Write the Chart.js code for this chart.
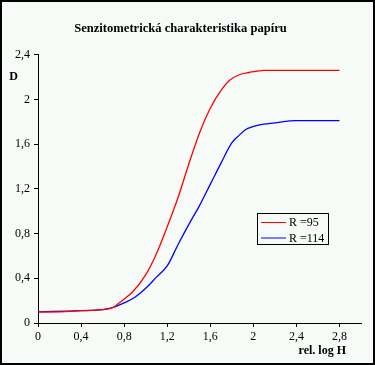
<!DOCTYPE html>
<html>
<head>
<meta charset="utf-8">
<script src="https://cdn.jsdelivr.net/npm/chart.js@4/dist/chart.umd.min.js"></script>
<style>
  html, body { margin: 0; padding: 0; background: #ffffff; }
  #wrap { width: 375px; height: 365px; }
</style>
</head>
<body>
<div id="wrap"><canvas id="myChart" width="375" height="365"></canvas></div>
<script>
// hodnoty
var logH95 = [0, 0.2, 0.4, 0.6, 0.7, 0.78, 0.88, 1.0, 1.1, 1.2, 1.3, 1.4, 1.5, 1.6, 1.7, 1.78, 1.87, 1.96, 2.1, 2.4, 2.8];
var d95 = [0.10, 0.10, 0.11, 0.12, 0.14, 0.20, 0.28, 0.43, 0.62, 0.86, 1.12, 1.42, 1.70, 1.92, 2.08, 2.17, 2.22, 2.24, 2.26, 2.26, 2.26];
var logH114 = [0, 0.4, 0.6, 0.7, 0.8, 0.9, 1.0, 1.1, 1.2, 1.3, 1.4, 1.5, 1.6, 1.7, 1.8, 1.87, 1.93, 2.05, 2.2, 2.4, 2.8];
var d114 = [0.10, 0.11, 0.12, 0.14, 0.18, 0.23, 0.31, 0.41, 0.51, 0.70, 0.88, 1.05, 1.24, 1.43, 1.61, 1.68, 1.73, 1.77, 1.79, 1.81, 1.81];
var seriesNames = ['R =95', 'R =114'];
var xTicks = [0, 0.4, 0.8, 1.2, 1.6, 2, 2.4, 2.8];
var yTicks = [0, 0.4, 0.8, 1.2, 1.6, 2, 2.4];

var serif = "'Liberation Serif', 'Times New Roman', serif";

function pts(xs, ys) {
    return xs.map(function (x, i) { return { x: x, y: ys[i] }; });
}
function fmt(v) {
    return String(+(+v).toFixed(1)).replace('.', ',');
}

var frame = {
    id: 'frame',
    beforeDraw: function (chart) {
        var c = chart.ctx;
        c.save();
        c.fillStyle = '#f7fbf7';
        c.fillRect(0, 0, chart.width, chart.height);
        c.restore();
    },
    afterDraw: function (chart) {
        var c = chart.ctx;
        c.save();
        c.strokeStyle = '#000';
        c.lineWidth = 2;
        c.strokeRect(1, 1, chart.width - 2, chart.height - 2);

        // popisky os
        c.fillStyle = '#000';
        c.font = 'bold 12px ' + serif;
        c.textBaseline = 'middle';
        c.textAlign = 'center';
        c.fillText('D', 13.5, 77);
        c.textAlign = 'right';
        c.fillText('rel. log H', 346, 351);

        // legenda
        var lx = 257, ly = 213, lw = 71, lh = 31;
        c.lineWidth = 1;
        c.strokeRect(lx + 0.5, ly + 0.5, lw, lh);
        c.font = '12px ' + serif;
        c.textAlign = 'left';
        chart.data.datasets.forEach(function (ds, i) {
            var y = ly + 9 + i * 15.5;
            c.strokeStyle = ds.borderColor;
            c.beginPath();
            c.moveTo(lx + 4, y + 0.5);
            c.lineTo(lx + 29, y + 0.5);
            c.stroke();
            c.fillText(ds.label, lx + 32, y + 1);
        });
        c.restore();
    }
};

var ctx = document.getElementById('myChart').getContext('2d');
var myChart = new Chart(ctx, {
    type: 'line',
    data: {
        datasets: [{
            label: seriesNames[0],
            data: pts(logH95, d95),
            borderColor: '#ff0000',
            borderWidth: 1.3,
            pointRadius: 0,
            cubicInterpolationMode: 'monotone',
            fill: false
        }, {
            label: seriesNames[1],
            data: pts(logH114, d114),
            borderColor: '#0000ff',
            borderWidth: 1.3,
            pointRadius: 0,
            cubicInterpolationMode: 'monotone',
            fill: false
        }]
    },
    options: {
        responsive: false,
        animation: false,
        layout: { padding: { left: 0, right: 14, top: 0, bottom: 0 } },
        plugins: {
            legend: { display: false },
            tooltip: { enabled: false },
            title: {
                display: true,
                text: 'Senzitometrická charakteristika papíru',
                color: '#000',
                font: { family: serif, size: 12.6, weight: 'bold' },
                padding: { top: 21, bottom: 18.5 }
            }
        },
        scales: {
            x: {
                type: 'linear',
                min: 0,
                max: 3,
                afterBuildTicks: function (s) {
                    s.ticks = xTicks.map(function (v) { return { value: v }; });
                },
                afterFit: function (s) { s.height = 42; },
                border: { display: true, color: '#000', width: 1 },
                grid: { drawOnChartArea: false, drawTicks: true, tickLength: 4, color: '#000' },
                ticks: {
                    color: '#000',
                    font: { family: serif, size: 12 },
                    padding: 3,
                    maxRotation: 0,
                    autoSkip: false,
                    callback: fmt
                }
            },
            y: {
                min: 0,
                max: 2.4,
                afterBuildTicks: function (s) {
                    s.ticks = yTicks.map(function (v) { return { value: v }; });
                },
                afterFit: function (s) { s.width = 38; },
                border: { display: true, color: '#000', width: 1 },
                grid: { drawOnChartArea: false, drawTicks: true, tickLength: 4, color: '#000' },
                ticks: {
                    color: '#000',
                    font: { family: serif, size: 12 },
                    padding: 4,
                    autoSkip: false,
                    callback: fmt
                }
            }
        }
    },
    plugins: [frame]
});
</script>
</body>
</html>
